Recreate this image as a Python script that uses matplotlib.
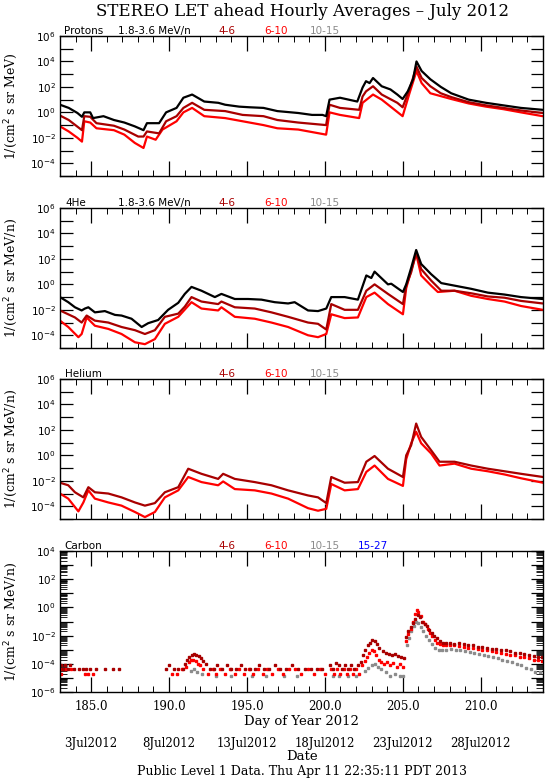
import numpy as np
import matplotlib
matplotlib.use("Agg")
import matplotlib.pyplot as plt
import matplotlib.transforms as mtransforms
from matplotlib.ticker import FixedLocator, FuncFormatter, MultipleLocator, NullFormatter

# ---------------- data (day of year, log10 flux) ----------------
protons_black = [(183.0,0.6),(183.56,0.35),(184.12,-0.05),(184.41,-0.35),(184.56,0.0),(184.94,0.0),(185.12,-0.45),
    (185.79,-0.3),(186.46,-0.6),(187.13,-0.8),(187.80,-1.1),(188.36,-1.4),(188.58,-0.85),(189.36,-0.85),(189.81,0.0),
    (190.48,0.35),(190.92,1.15),(191.48,1.4),(192.26,0.85),(193.16,0.75),(193.60,0.6),(194.50,0.45),(195.17,0.4),
    (196.06,0.35),(196.95,0.1),(198.29,-0.05),(199.18,-0.2),(199.85,-0.2),(200.08,-0.3),(200.30,1.0),(200.97,1.15),
    (202.08,0.85),(202.42,1.95),(202.64,2.45),(202.87,2.3),(203.09,2.7),(203.65,2.05),(204.21,1.8),(204.65,1.4),
    (204.99,1.05),(205.32,1.65),(205.66,2.6),(205.88,4.0),(206.21,3.25),(206.77,2.6),(207.44,2.0),(208.11,1.5),
    (209.23,1.0),(210.34,0.75),(211.46,0.55),(212.58,0.35),(213.98,0.2)]
protons_darkred = [(183.0,-0.25),(183.56,-0.6),(184.41,-1.4),(184.56,-0.3),(184.94,-0.35),(185.34,-0.85),(186.46,-1.05),
    (187.13,-1.35),(188.02,-1.9),(188.36,-1.9),(188.58,-1.5),(189.36,-1.65),(189.81,-0.7),(190.48,-0.3),(190.92,0.35),
    (191.48,0.75),(192.26,0.2),(193.60,0.1),(194.72,-0.2),(196.06,-0.3),(196.95,-0.6),(198.29,-0.8),(200.08,-1.0),
    (200.30,0.6),(200.97,0.35),(202.20,0.2),(202.42,1.25),(202.64,1.65),(203.09,2.05),(203.65,1.4),(204.65,0.75),
    (204.99,0.4),(205.43,1.8),(205.88,3.6),(206.21,2.7),(206.77,2.05),(207.44,1.5),(208.11,1.2),(209.23,0.8),
    (210.34,0.55),(211.46,0.35),(212.58,0.15),(213.98,-0.05)]
protons_red = [(183.0,-1.1),(183.56,-1.5),(184.12,-2.0),(184.41,-2.3),(184.56,-0.7),(184.94,-0.8),(185.34,-1.25),
    (186.46,-1.4),(187.13,-1.75),(187.80,-2.4),(188.36,-2.8),(188.58,-1.9),(189.14,-2.15),(189.58,-1.35),(190.48,-0.7),
    (190.92,0.0),(191.48,0.35),(192.26,-0.3),(193.60,-0.45),(194.72,-0.7),(196.06,-1.0),(196.95,-1.25),(198.29,-1.35),
    (200.08,-1.75),(200.30,0.0),(200.97,-0.2),(202.20,-0.45),(202.42,0.75),(203.09,1.4),(203.65,1.0),(204.99,-0.3),
    (205.43,1.5),(205.88,3.25),(206.21,2.3),(206.77,1.5),(208.11,1.05),(209.23,0.7),(210.34,0.45),(211.46,0.25),
    (212.58,0.0),(213.98,-0.3)]

he4_black = [(183.0,-1.0),(183.53,-1.4),(183.96,-1.8),(184.39,-2.05),(184.60,-1.9),(184.82,-1.8),(185.24,-2.2),
    (185.88,-2.1),(186.53,-2.4),(186.95,-2.45),(187.59,-2.7),(188.24,-3.35),(188.66,-3.05),(189.30,-2.8),(189.94,-2.0),
    (190.59,-1.45),(191.01,-0.75),(191.44,-0.2),(192.08,-0.5),(192.94,-1.0),(193.36,-0.75),(194.22,-1.15),(195.07,-1.15),
    (195.93,-1.2),(196.78,-1.4),(197.64,-1.5),(198.06,-1.4),(198.92,-2.05),(199.56,-2.1),(200.09,-1.9),(200.41,-1.0),
    (201.27,-1.0),(202.12,-1.2),(202.66,0.7),(202.98,0.5),(203.19,1.0),(204.05,0.0),(204.26,0.05),(205.01,-0.6),
    (205.22,0.0),(205.54,1.3),(205.86,2.7),(206.18,1.6),(206.82,0.8),(207.47,0.1),(208.32,-0.1),(209.39,-0.35),
    (210.46,-0.65),(211.53,-0.8),(212.59,-1.0),(213.98,-1.15)]
he4_darkred = [(183.0,-2.05),(183.96,-2.6),(184.39,-3.0),(184.71,-2.45),(185.24,-2.85),(186.10,-3.0),(186.95,-3.35),
    (187.81,-3.6),(188.45,-3.9),(189.09,-3.6),(189.73,-2.55),(190.59,-2.3),(191.01,-1.75),(191.44,-1.0),(192.08,-1.35),
    (193.15,-1.55),(193.36,-1.35),(194.22,-1.8),(195.50,-1.9),(196.57,-2.2),(197.64,-2.55),(198.92,-3.0),(199.56,-3.1),
    (200.09,-3.55),(200.41,-1.55),(201.27,-2.0),(202.12,-2.0),(202.66,-0.5),(203.19,0.0),(204.05,-0.75),(205.01,-1.55),
    (205.22,-0.1),(205.54,0.95),(205.86,2.5),(206.18,1.2),(206.82,0.3),(207.47,-0.5),(208.32,-0.5),(209.39,-0.7),
    (210.46,-0.95),(211.53,-1.05),(212.59,-1.3),(213.98,-1.5)]
he4_red = [(183.0,-2.85),(183.53,-3.35),(184.18,-4.15),(184.39,-3.9),(184.71,-2.6),(185.24,-3.25),(186.10,-3.5),
    (186.95,-3.9),(187.81,-4.55),(188.45,-4.7),(189.09,-4.3),(189.73,-3.1),(190.59,-2.55),(191.44,-1.4),(192.08,-1.9),
    (193.15,-2.05),(193.36,-1.8),(194.22,-2.55),(195.50,-2.7),(196.57,-3.0),(197.64,-3.35),(198.92,-4.0),(199.56,-4.15),
    (200.09,-3.9),(200.41,-2.35),(201.27,-2.65),(202.12,-2.6),(202.66,-1.0),(203.19,-0.65),(204.05,-1.55),(205.01,-2.35),
    (205.22,-0.3),(205.54,1.1),(205.86,2.4),(206.18,0.7),(206.82,-0.1),(207.25,-0.6),(208.32,-0.5),(209.39,-0.9),
    (210.46,-1.15),(211.53,-1.35),(212.59,-1.7),(213.98,-2.0)]

helium_darkred = [(183.0,-2.15),(183.53,-2.35),(183.96,-2.9),(184.50,-3.3),(184.82,-2.5),(185.24,-2.9),(186.10,-3.0),
    (186.95,-3.3),(187.81,-3.7),(188.45,-3.95),(189.09,-3.75),(189.73,-2.9),(190.59,-2.5),(191.23,-1.05),(192.08,-1.45),
    (193.15,-1.85),(193.47,-1.45),(194.22,-1.85),(195.50,-2.1),(196.57,-2.35),(197.64,-2.75),(198.92,-3.15),(199.56,-3.3),
    (200.09,-3.75),(200.41,-1.7),(201.27,-2.15),(202.12,-2.1),(202.66,-0.5),(203.19,-0.05),(204.05,-1.05),(205.01,-1.7),
    (205.22,0.0),(205.54,0.8),(205.86,2.5),(206.18,1.45),(206.82,0.4),(207.36,-0.5),(208.32,-0.5),(209.39,-0.8),
    (210.46,-1.05),(211.53,-1.25),(212.59,-1.45),(214.0,-1.7)]
helium_red = [(183.0,-3.0),(183.53,-3.4),(184.18,-4.4),(184.50,-3.7),(184.82,-2.75),(185.24,-3.4),(186.10,-3.7),
    (186.95,-3.95),(187.81,-4.45),(188.45,-4.85),(189.09,-4.45),(189.73,-3.3),(190.59,-2.75),(191.23,-1.7),(192.08,-2.1),
    (193.15,-2.35),(193.47,-2.05),(194.22,-2.65),(195.50,-2.75),(196.57,-3.0),(197.64,-3.4),(198.92,-4.15),(199.56,-4.35),
    (200.09,-4.2),(200.41,-2.25),(201.27,-2.75),(202.12,-2.65),(202.66,-1.3),(203.19,-0.8),(204.05,-1.85),(205.01,-2.4),
    (205.22,-0.3),(205.54,0.95),(205.86,1.85),(206.18,0.95),(206.82,0.15),(207.36,-0.8),(208.32,-0.65),(209.39,-1.05),
    (210.46,-1.25),(211.53,-1.5),(212.59,-1.8),(214.0,-2.15)]

carbon_darkred = [(183.05,-4.1),(183.2,-4.35),(183.35,-4.1),(183.5,-4.35),(183.65,-4.1),(183.9,-4.35),(184.2,-4.35),
    (184.5,-4.35),(184.7,-4.35),(184.9,-4.35),(185.3,-4.35),(185.9,-4.35),(186.4,-4.35),(186.8,-4.35),
    (189.8,-4.35),(190.0,-4.1),(190.3,-4.35),(190.6,-4.35),(190.9,-4.35),
    (191.0,-4.0),(191.15,-3.7),(191.3,-3.5),(191.45,-3.35),(191.6,-3.3),(191.75,-3.35),(191.9,-3.45),(192.05,-3.6),
    (192.2,-3.8),(192.4,-4.0),(192.6,-4.35),(192.9,-4.35),(193.1,-4.1),(193.4,-4.35),(193.7,-4.1),(194.0,-4.35),
    (194.3,-4.35),(194.6,-4.1),(194.9,-4.35),(195.2,-4.35),(195.5,-4.35),(195.8,-4.1),(196.1,-4.35),(196.4,-4.35),
    (196.8,-4.1),(197.1,-4.35),(197.5,-4.35),(197.9,-4.1),(198.3,-4.35),(198.7,-4.35),(199.1,-4.35),(199.5,-4.35),
    (199.8,-4.35),(200.3,-4.1),(200.5,-4.35),(200.7,-3.95),(200.9,-4.1),(201.1,-4.35),(201.3,-4.1),(201.5,-4.35),
    (201.7,-4.1),(201.9,-4.35),(202.1,-4.1),(202.3,-3.9),(202.45,-3.4),(202.6,-3.0),(202.75,-2.7),(202.9,-2.5),
    (203.05,-2.3),(203.2,-2.35),(203.35,-2.6),(203.5,-2.9),(203.7,-3.1),(203.9,-3.2),(204.1,-3.3),(204.3,-3.35),
    (204.5,-3.3),(204.7,-3.45),(204.9,-3.5),(205.1,-3.6),(205.2,-2.1),(205.35,-1.7),(205.5,-1.4),(205.65,-1.1),
    (205.8,-0.8),(205.95,-0.55),(206.1,-0.7),(206.25,-1.0),(206.4,-1.15),(206.55,-1.3),(206.7,-1.6),(206.85,-1.8),
    (207.0,-2.0),(207.2,-2.2),(207.4,-2.4),(207.6,-2.5),(207.8,-2.55),(208.0,-2.55),(208.3,-2.6),(208.6,-2.55),
    (208.9,-2.6),(209.2,-2.65),(209.5,-2.7),(209.8,-2.8),(210.1,-2.8),(210.4,-2.85),(210.7,-2.95),(211.0,-2.95),
    (211.3,-3.0),(211.6,-3.05),(211.9,-3.1),(212.2,-3.2),(212.5,-3.25),(212.8,-3.3),(213.1,-3.35),(213.4,-3.45),
    (213.7,-3.5),(213.95,-3.55)]
carbon_red = [(183.05,-4.7),(183.15,-4.35),(183.3,-4.35),(183.7,-4.35),(184.6,-4.7),(184.8,-4.7),(185.15,-4.7),
    (190.2,-4.7),(190.5,-4.7),(190.8,-4.35),(191.1,-4.2),(191.25,-3.9),(191.4,-3.75),(191.55,-3.7),(191.7,-3.8),
    (191.85,-4.0),(192.0,-4.1),(192.2,-4.35),(192.5,-4.7),(192.8,-4.35),(193.0,-4.7),(193.3,-4.35),(193.6,-4.7),
    (193.9,-4.35),(194.2,-4.7),(194.5,-4.35),(194.8,-4.7),(195.1,-4.35),(195.4,-4.7),(195.7,-4.35),(196.0,-4.7),
    (196.3,-4.35),(196.6,-4.7),(197.0,-4.35),(197.3,-4.7),(197.7,-4.35),(198.1,-4.35),(198.5,-4.7),(198.9,-4.35),
    (199.3,-4.7),(199.7,-4.35),(200.0,-4.7),(200.4,-4.35),(200.6,-4.7),(200.8,-4.35),(201.0,-4.7),(201.2,-4.35),
    (201.4,-4.7),(201.6,-4.35),(201.8,-4.7),(202.0,-4.35),(202.2,-4.7),(202.4,-4.1),(202.55,-3.8),(202.7,-3.5),
    (202.85,-3.2),(203.0,-3.0),(203.15,-3.1),(203.3,-3.4),(203.45,-3.7),(203.6,-3.9),(203.8,-4.0),(204.0,-3.9),
    (204.2,-4.1),(204.4,-3.95),(204.6,-4.2),(204.8,-4.0),(205.0,-4.2),(205.2,-2.4),(205.35,-1.9),(205.5,-1.5),
    (205.65,-1.0),(205.8,-0.5),(205.9,-0.2),(206.0,-0.35),(206.15,-0.6),(206.3,-1.0),(206.45,-1.2),(206.6,-1.5),
    (206.75,-1.8),(206.9,-2.0),(207.05,-2.3),(207.2,-2.5),(207.4,-2.6),(207.6,-2.65),(207.8,-2.7),(208.0,-2.7),
    (208.3,-2.7),(208.6,-2.75),(208.9,-2.8),(209.2,-2.85),(209.5,-2.9),(209.8,-2.95),(210.1,-3.0),(210.4,-3.05),
    (210.7,-3.1),(211.0,-3.15),(211.3,-3.2),(211.6,-3.3),(211.9,-3.35),(212.2,-3.4),(212.5,-3.5),(212.8,-3.55),
    (213.1,-3.6),(213.4,-3.7),(213.7,-3.75),(213.95,-3.8)]
carbon_gray = [(191.4,-4.5),(191.6,-4.4),(191.8,-4.55),(192.1,-4.7),(193.0,-4.85),(194.0,-4.85),(195.3,-4.85),
    (196.2,-4.85),(197.4,-4.85),(198.2,-4.85),(200.5,-4.85),(200.9,-4.85),(201.5,-4.85),(202.0,-4.85),
    (202.6,-4.5),(202.8,-4.3),(203.0,-4.1),(203.2,-4.0),(203.4,-4.2),(203.6,-4.4),(203.9,-4.6),(204.2,-4.85),
    (204.5,-4.7),(204.8,-4.85),(205.0,-4.85),(205.25,-2.7),(205.4,-2.2),(205.55,-1.7),(205.7,-1.3),(205.85,-1.0),
    (206.0,-1.1),(206.15,-1.4),(206.3,-1.7),(206.5,-2.0),(206.7,-2.3),(206.9,-2.6),(207.1,-2.85),(207.3,-3.0),
    (207.5,-3.05),(207.8,-3.0),(208.1,-2.95),(208.4,-3.0),(208.7,-3.05),(209.0,-3.1),(209.3,-3.15),(209.6,-3.2),
    (209.9,-3.3),(210.2,-3.35),(210.5,-3.45),(210.8,-3.5),(211.1,-3.6),(211.4,-3.7),(211.7,-3.8),(212.0,-3.9),
    (212.3,-4.0),(212.6,-4.1),(212.9,-4.3),(213.2,-4.4),(213.5,-4.55),(213.8,-4.6)]

major_days = [185, 190, 195, 200, 205, 210]
date_labels = ["3Jul2012", "8Jul2012", "13Jul2012", "18Jul2012", "23Jul2012", "28Jul2012"]

BLACK, DARKRED, RED, GRAY, BLUE = "#000000", "#a80000", "#ff0000", "#8c8c8c", "#0000ff"
W, H = 545, 780
SERIF = "DejaVu Serif"

fig = plt.figure(figsize=(W / 100, H / 100), dpi=100)

def px(x, y):
    return x / W, 1 - y / H

def make_axes(top, bottom):
    l, r = 60, 543
    return fig.add_axes([l / W, 1 - bottom / H, (r - l) / W, (bottom - top) / H])

def style(ax, ylo, yhi, minor_y=False, xlabels=False):
    ax.set_yscale("log")
    ax.set_xlim(183, 214)
    ax.set_ylim(10.0 ** ylo, 10.0 ** yhi)
    ax.xaxis.set_major_locator(FixedLocator(major_days))
    ax.xaxis.set_minor_locator(MultipleLocator(1))
    ax.yaxis.set_major_locator(FixedLocator([10.0 ** k for k in range(ylo, yhi + 1)]))
    def fmt(v, pos):
        k = int(round(np.log10(v)))
        return r"$10^{%d}$" % k if k % 2 == 0 else ""
    ax.yaxis.set_major_formatter(FuncFormatter(fmt))
    if minor_y:
        ax.yaxis.set_minor_locator(FixedLocator([m * 10.0 ** k for k in range(ylo, yhi) for m in range(2, 10)]))
    else:
        ax.yaxis.set_minor_locator(FixedLocator([]))
    ax.yaxis.set_minor_formatter(NullFormatter())
    ax.tick_params(which="both", direction="in", top=True, right=True, colors="black")
    ax.tick_params(axis="x", which="major", length=11, width=0.9)
    ax.tick_params(axis="x", which="minor", length=4, width=0.7)
    ax.tick_params(axis="y", which="major", length=9, width=0.9, labelsize=7.5, pad=3)
    ax.tick_params(axis="y", which="minor", length=5, width=0.6)
    if xlabels:
        ax.xaxis.set_major_formatter(FuncFormatter(lambda v, p: "%.1f" % v))
        ax.tick_params(axis="x", labelsize=8.5, pad=6)
    else:
        ax.tick_params(axis="x", labelbottom=False)
    for lab in ax.get_xticklabels() + ax.get_yticklabels():
        lab.set_family(SERIF)
    for s in ax.spines.values():
        s.set_linewidth(1.0)

def line(ax, pts, color):
    d = [p[0] for p in pts]
    v = [10.0 ** p[1] for p in pts]
    ax.plot(d, v, color=color, lw=1.6, solid_joinstyle="round", solid_capstyle="round")

def dots(ax, pts, color):
    d = [p[0] for p in pts]
    v = [10.0 ** p[1] for p in pts]
    ax.plot(d, v, ls="none", marker="s", ms=1.8, mec=color, mfc=color, color=color)

def header(top, items):
    for x, txt, col in items:
        fig.text(*px(x, top - 5), txt, color=col, fontsize=7.5, ha="left", va="center", family="DejaVu Sans")

def ylabel(top, bottom, txt):
    fig.text(*px(11, (top + bottom) / 2), txt, rotation=90, ha="center", va="center", fontsize=9, family=SERIF)

# Panel 1: protons
a1 = make_axes(36, 176)
line(a1, protons_red, RED); line(a1, protons_darkred, DARKRED); line(a1, protons_black, BLACK)
style(a1, -5, 6)
header(36, [(64, "Protons", BLACK), (118, "1.8-3.6 MeV/n", BLACK), (218, "4-6", DARKRED), (264, "6-10", RED), (310, "10-15", GRAY)])
ylabel(36, 176, r"1/(cm$^2$ s sr MeV)")

# Panel 2: 4He
a2 = make_axes(208, 348)
line(a2, he4_red, RED); line(a2, he4_darkred, DARKRED); line(a2, he4_black, BLACK)
style(a2, -5, 6)
header(208, [(65, "4He", BLACK), (118, "1.8-3.6 MeV/n", BLACK), (218, "4-6", DARKRED), (264, "6-10", RED), (310, "10-15", GRAY)])
ylabel(208, 348, r"1/(cm$^2$ s sr MeV/n)")

# Panel 3: Helium
a3 = make_axes(379, 519)
line(a3, helium_red, RED); line(a3, helium_darkred, DARKRED)
style(a3, -5, 6)
header(379, [(65, "Helium", BLACK), (218, "4-6", DARKRED), (264, "6-10", RED), (310, "10-15", GRAY)])
ylabel(379, 519, r"1/(cm$^2$ s sr MeV/n)")

# Panel 4: Carbon
a4 = make_axes(551, 692)
dots(a4, carbon_gray, GRAY); dots(a4, carbon_red, RED); dots(a4, carbon_darkred, DARKRED)
style(a4, -6, 4, minor_y=True, xlabels=True)
header(551, [(64, "Carbon", BLACK), (218, "4-6", DARKRED), (264, "6-10", RED), (310, "10-15", GRAY), (358, "15-27", BLUE)])
ylabel(551, 692, r"1/(cm$^2$ s sr MeV/n)")

# Texts
fig.text(*px(302, 11), "STEREO LET ahead Hourly Averages \u2013 July 2012", ha="center", va="center", fontsize=12, family=SERIF)
fig.text(*px(301.5, 721), "Day of Year 2012", ha="center", va="center", fontsize=9.5, family=SERIF)
blend = mtransforms.blended_transform_factory(a4.transData, fig.transFigure)
for d, lab in zip(major_days, date_labels):
    a4.text(d, 1 - 743 / H, lab, transform=blend, ha="center", va="center", fontsize=8.5, family=SERIF)
fig.text(*px(302, 757), "Date", ha="center", va="center", fontsize=9.5, family=SERIF)
fig.text(*px(302, 771), "Public Level 1 Data. Thu Apr 11 22:35:11 PDT 2013", ha="center", va="center", fontsize=9, family=SERIF)

fig.savefig("out.png", dpi=100)
